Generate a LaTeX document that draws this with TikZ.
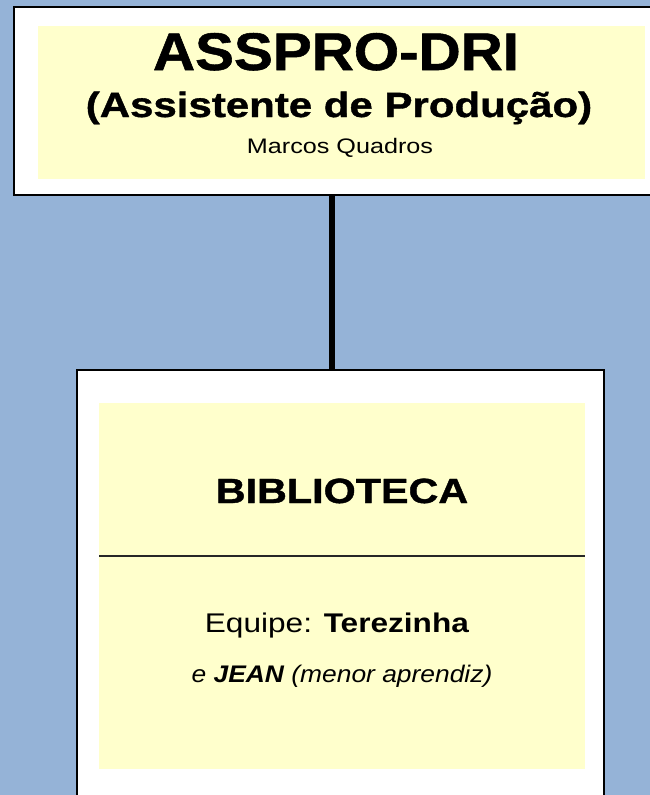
\documentclass[tikz,border=0pt]{standalone}
\usepackage{fontspec}
\setmainfont{Liberation Sans}
\newfontfamily\heavyfont{Liberation Sans Bold}[FakeBold=1.0]
\definecolor{bgblue}{HTML}{95B3D7}
\definecolor{paleyel}{HTML}{FFFFCC}
\newcommand{\wid}[2]{\scalebox{#1}[1]{#2}}
\begin{document}
\begin{tikzpicture}[x=1pt,y=1pt,
  outerbox/.style={draw=black, line width=2.2pt, fill=white, inner sep=0pt},
  innerbox/.style={fill=paleyel, draw=none, inner sep=0pt},
  conn/.style={draw=black, line width=5.5pt},
  sep/.style={draw=black!85, line width=1.3pt},
  txt/.style={anchor=base, inner sep=0pt, text=black}]
\useasboundingbox (0,0) rectangle (650,-795);
\clip (0,0) rectangle (650,-795);
\fill[bgblue] (0,0) rectangle (650,-795);
% top box
\node[outerbox, minimum width=650pt, minimum height=188pt, anchor=north west] (top) at (13,-6) {};
\node[innerbox, minimum width=607pt, minimum height=153pt, anchor=north west] (topin) at (38,-26) {};
% bottom box
\node[outerbox, minimum width=527pt, minimum height=440pt, anchor=north west] (bot) at (76,-369) {};
\node[innerbox, minimum width=486pt, minimum height=366pt, anchor=north west] (botin) at (99,-403) {};
% connector
\draw[conn] (top.south -| 332,0) -- (bot.north -| 332,0);
% separator
\coordinate (sepl) at (99,-556);
\coordinate (sepr) at (585,-556);
\draw[sep] (sepl) -- (sepr);
% texts
\node[txt, font=\fontsize{53}{60}\selectfont\heavyfont] (t1) at (336,-70) {\wid{1.1}{ASSPRO-DRI}};
\node[txt, font=\fontsize{35}{40}\selectfont\heavyfont] (t2) at (339,-117) {\wid{1.2}{(Assistente de Produção)}};
\node[txt, font=\fontsize{21}{25}\selectfont] (t3) at (340,-153) {\wid{1.2}{Marcos Quadros}};
\node[txt, font=\fontsize{35}{40}\selectfont\heavyfont] (t4) at (342,-503) {\wid{1.18}{BIBLIOTECA}};
\node[txt, font=\fontsize{27}{32}\selectfont] (t5) at (337,-632) {\wid{1.17}{Equipe: \textbf{Terezinha}}};
\node[txt, font=\fontsize{24}{28}\selectfont\itshape] (t6) at (342,-682) {\wid{1.10}{e \textbf{JEAN} (menor aprendiz)}};
\end{tikzpicture}
\end{document}
